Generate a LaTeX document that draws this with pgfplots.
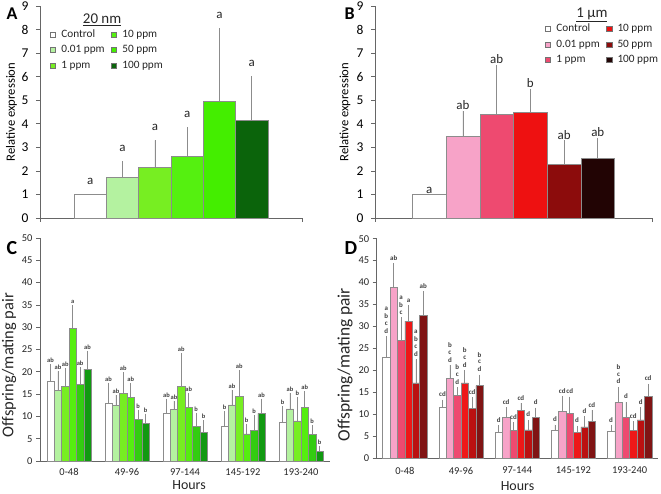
\documentclass[border=0pt]{standalone}
\usepackage{pgfplots}
\pgfplotsset{compat=1.18}
\usepackage{pgfplotstable}
\usepackage{fontspec}
\setmainfont{Carlito}

\definecolor{gA1}{HTML}{B4F2A0}
\definecolor{gA2}{HTML}{77EE22}
\definecolor{gA3}{HTML}{55F010}
\definecolor{gA4}{HTML}{44EE00}
\definecolor{gA5}{HTML}{0B640B}
\definecolor{gC1}{HTML}{B4F2A0}
\definecolor{gC2}{HTML}{77EE22}
\definecolor{gC3}{HTML}{55EE10}
\definecolor{gC4}{HTML}{33CC11}
\definecolor{gC5}{HTML}{119911}
\definecolor{pB1}{HTML}{F7A3C8}
\definecolor{pB2}{HTML}{EE4A70}
\definecolor{pB3}{HTML}{EE1111}
\definecolor{pB4}{HTML}{8C0C0C}
\definecolor{pB5}{HTML}{220404}
\definecolor{pD1}{HTML}{F7A3C8}
\definecolor{pD2}{HTML}{EE4A70}
\definecolor{pD3}{HTML}{EE1818}
\definecolor{pD4}{HTML}{BB1111}
\definecolor{pD5}{HTML}{801414}

\newcommand{\abcd}{\shortstack{a\\b\\c\\d}}
\newcommand{\abc}{\shortstack{a\\b\\c}}
\newcommand{\bcd}{\shortstack{b\\c\\d}}

\pgfplotstableread{
x v0 e0 l0 v1 e1 l1 v2 e2 l2 v3 e3 l3 v4 e4 l4 v5 e5 l5
0 1.0 0 a 1.72 0.68 a 2.15 1.15 a 2.6 1.25 a 4.95 3.1 a 4.17 1.85 a
}\dataA

\pgfplotstableread{
x v0 e0 l0 v1 e1 l1 v2 e2 l2 v3 e3 l3 v4 e4 l4 v5 e5 l5
0 1.0 0 a 3.45 1.1 ab 4.4 2.1 ab 4.5 0.98 b 2.3 1.0 ab 2.52 0.88 ab
}\dataB

\pgfplotstableread{
x v0 e0 l0 v1 e1 l1 v2 e2 l2 v3 e3 l3 v4 e4 l4 v5 e5 l5
0 17.8 3.9 ab 15.8 4.3 ab 16.7 4.1 ab 29.7 5.2 a 17.1 3.9 ab 20.6 4.1 ab
1 13.0 4.6 ab 12.5 2.4 ab 15.1 4.8 ab 14.3 3.2 ab 9.4 2.1 b 8.5 2.1 b
2 10.6 3.4 ab 11.6 1.9 ab 16.8 7.4 ab 12.1 3.1 ab 7.8 3.0 b 6.4 2.7 b
3 7.8 3.4 b 12.6 3.4 ab 14.5 5.8 ab 6.1 2.1 b 6.9 3.4 b 10.7 3.3 ab
4 8.7 3.6 b 11.7 3.5 ab 9.0 5.4 b 12.1 3.5 ab 6.0 2.0 b 2.1 1.3 b
}\dataC

\pgfplotstableread{
x v0 e0 l0 v1 e1 l1 v2 e2 l2 v3 e3 l3 v4 e4 l4 v5 e5 l5
0 22.9 4.9 {\abcd} 38.9 5.5 ab 26.8 5.3 {\abc} 31.2 3.6 a 17.1 5.4 {\abcd} 32.5 5.5 ab
1 11.6 1.7 cd 18.1 3.1 {\bcd} 14.3 1.8 {\bcd} 17.1 2.9 {\bcd} 11.3 2.6 cd 16.5 2.5 {\bcd}
2 5.8 1.7 d 9.3 2.3 cd 6.3 1.9 cd 10.8 1.7 cd 6.4 2.3 d 9.2 2.3 d
3 6.3 1.3 d 10.6 3.5 cd 10.1 3.9 cd 5.8 1.5 d 7.1 2.4 d 8.4 2.5 cd
4 6.1 1.4 d 12.7 3.5 {\bcd} 9.3 3.5 d 6.3 2.1 cd 8.7 2.9 d 14.0 2.9 cd
}\dataD

\newcommand{\barplot}[4]{%
\addplot[fill=#2, draw=black!45, line width=0.5bp, bar shift=#1,
  point meta=explicit symbolic,
  visualization depends on={\thisrow{e#3}\as\ep},
  nodes near coords]
  table[x=x, y=v#3, y error plus=e#3, meta=l#3] {#4};}

\pgfplotsset{
  base/.style={
    scale only axis, axis lines*=left, clip=false,
    tick align=outside, major tick length=4bp,
    axis line style={black!60, line width=0.8bp},
    tick style={black!60, line width=0.6bp},
    /pgf/number format/assume math mode=true,
    ybar, ymin=0,
    error bars/y dir=plus, error bars/y explicit,
    error bars/error mark=none,
    error bars/error bar style={black!45, line width=0.7bp},
    legend cell align=left,
    legend image code/.code={\draw[##1, draw=black!55, line width=0.5bp] (0bp,-2.6bp) rectangle (5.2bp,2.6bp);},
  },
  leg/.style={legend columns=2,
    legend style={draw=none, fill=none, at={#1}, anchor=north west,
    font=\fontsize{11.3}{12}\selectfont, text=black!85, row sep=4.5bp, inner sep=0pt,
    nodes={inner sep=1bp},
    /tikz/every odd column/.append style={column sep=4.5bp},
    /tikz/every even column/.append style={column sep=5.5bp}}},
}

\begin{document}
\begin{tikzpicture}[x=1bp,y=1bp]
\useasboundingbox (0,0) rectangle (661,494);

% Panel A
\begin{axis}[base, at={(40bp,276bp)}, anchor=south west,
  width=262bp, height=212bp,
  xmin=-1, xmax=1, ymax=9, ytick={0,...,9},
  xtick={-1,1}, xticklabels={},
  bar width=32.3bp,
  yticklabel style={font=\fontsize{13.5}{13.5}\selectfont, text=black, xshift=-4bp},
  ylabel={Relative expression},
  ylabel style={font=\fontsize{12.7}{13}\selectfont, at={(axis description cs:-0.109,0.5)}, anchor=center},
  every node near coord/.append style={font=\fontsize{13}{13}\selectfont, text=black!85, anchor=base, yshift=9.5bp, shift={(axis direction cs:0,\ep)}},
  leg={(axis description cs:0.038,0.893)},
]
\addlegendimage{fill=white}\addlegendentry{Control}
\addlegendimage{fill=gA3}\addlegendentry{10 ppm}
\addlegendimage{fill=gA1}\addlegendentry{0.01 ppm}
\addlegendimage{fill=gA4}\addlegendentry{50 ppm}
\addlegendimage{fill=gA2}\addlegendentry{1 ppm}
\addlegendimage{fill=gA5}\addlegendentry{100 ppm}
\barplot{-80.75bp}{white}{0}{\dataA}
\barplot{-48.45bp}{gA1}{1}{\dataA}
\barplot{-16.15bp}{gA2}{2}{\dataA}
\barplot{16.15bp}{gA3}{3}{\dataA}
\barplot{48.45bp}{gA4}{4}{\dataA}
\barplot{80.75bp}{gA5}{5}{\dataA}
\node[anchor=base, font=\fontsize{15}{15}\selectfont, text=black!85] at (axis description cs:0.237,0.918) {\underline{20 nm}};
\end{axis}

% Panel B
\begin{axis}[base, at={(375bp,276bp)}, anchor=south west,
  width=277bp, height=212bp,
  xmin=-1, xmax=1, ymax=9, ytick={0,...,9},
  xtick={-1,1}, xticklabels={},
  bar width=33.7bp,
  yticklabel style={font=\fontsize{13.5}{13.5}\selectfont, text=black, xshift=-4bp},
  ylabel={Relative expression},
  ylabel style={font=\fontsize{12.7}{13}\selectfont, at={(axis description cs:-0.108,0.5)}, anchor=center},
  every node near coord/.append style={font=\fontsize{13}{13}\selectfont, text=black!85, anchor=base, yshift=1bp, shift={(axis direction cs:0,\ep)}},
  leg={(axis description cs:0.614,0.92)},
]
\addlegendimage{fill=white}\addlegendentry{Control}
\addlegendimage{fill=pB3}\addlegendentry{10 ppm}
\addlegendimage{fill=pB1}\addlegendentry{0.01 ppm}
\addlegendimage{fill=pB4}\addlegendentry{50 ppm}
\addlegendimage{fill=pB2}\addlegendentry{1 ppm}
\addlegendimage{fill=pB5}\addlegendentry{100 ppm}
\barplot{-84.25bp}{white}{0}{\dataB}
\barplot{-50.55bp}{pB1}{1}{\dataB}
\barplot{-16.85bp}{pB2}{2}{\dataB}
\barplot{16.85bp}{pB3}{3}{\dataB}
\barplot{50.55bp}{pB4}{4}{\dataB}
\barplot{84.25bp}{pB5}{5}{\dataB}
\node[anchor=base, font=\fontsize{15}{15}\selectfont, text=black!85] at (axis description cs:0.783,0.945) {\underline{1 µm}};
\end{axis}

% Panel C
\begin{axis}[base, at={(40bp,33bp)}, anchor=south west,
  width=290bp, height=223bp,
  xmin=-0.5, xmax=4.5, ymax=50, ytick={0,5,...,50},
  xtick={0,...,4}, xticklabels={0-48,49-96,97-144,145-192,193-240},
  x tick style={draw=none},
  bar width=7.4bp,
  yticklabel style={font=\fontsize{10.5}{10.5}\selectfont, text=black!85},
  xticklabel style={font=\fontsize{10.5}{11}\selectfont, text=black!85, yshift=-3.5bp, inner sep=0pt},
  ylabel={Offspring/mating pair},
  ylabel style={font=\fontsize{16.5}{17}\selectfont, text=black!85, at={(axis description cs:-0.107,0.43)}, anchor=center},
  xlabel={Hours},
  xlabel style={font=\fontsize{14}{14}\selectfont, text=black!85, inner sep=0pt, at={(axis description cs:0.514,-0.126)}, anchor=base},
  every node near coord/.append style={font=\bfseries\fontsize{6.5}{8.5}\selectfont, text=black!75, anchor=base, yshift=1.5bp, inner sep=0pt, shift={(axis direction cs:0,\ep)}},
]
\barplot{-18.5bp}{white}{0}{\dataC}
\barplot{-11.1bp}{gC1}{1}{\dataC}
\barplot{-3.7bp}{gC2}{2}{\dataC}
\barplot{3.7bp}{gC3}{3}{\dataC}
\barplot{11.1bp}{gC4}{4}{\dataC}
\barplot{18.5bp}{gC5}{5}{\dataC}
\end{axis}

% Panel D
\begin{axis}[base, at={(376.7bp,36bp)}, anchor=south west,
  width=281bp, height=219.3bp,
  xmin=-0.5, xmax=4.5, ymax=50, ytick={0,5,...,50},
  xtick={0,...,4}, xticklabels={0-48,49-96,97-144,145-192,193-240},
  x tick style={draw=none},
  bar width=7.4bp,
  yticklabel style={font=\fontsize{10.5}{10.5}\selectfont, text=black!85},
  xticklabel style={font=\fontsize{10.5}{11}\selectfont, text=black!85, yshift=-5bp, inner sep=0pt},
  ylabel={Offspring/mating pair},
  ylabel style={font=\fontsize{17.5}{18}\selectfont, text=black!85, at={(axis description cs:-0.113,0.426)}, anchor=center},
  xlabel={Hours},
  xlabel style={font=\fontsize{14}{14}\selectfont, text=black!85, inner sep=0pt, at={(axis description cs:0.501,-0.147)}, anchor=base},
  every node near coord/.append style={font=\bfseries\fontsize{7}{9.5}\selectfont, text=black!75, anchor=base, yshift=3bp, inner sep=0pt, shift={(axis direction cs:0,\ep)}},
]
\barplot{-18.5bp}{white}{0}{\dataD}
\barplot{-11.1bp}{pD1}{1}{\dataD}
\barplot{-3.7bp}{pD2}{2}{\dataD}
\barplot{3.7bp}{pD3}{3}{\dataD}
\barplot{11.1bp}{pD4}{4}{\dataD}
\barplot{18.5bp}{pD5}{5}{\dataD}
\end{axis}

\node[anchor=base west, font=\bfseries\fontsize{18}{18}\selectfont] at (3,474) {A};
\node[anchor=base west, font=\bfseries\fontsize{18}{18}\selectfont] at (341,474) {B};
\node[anchor=base west, font=\bfseries\fontsize{20}{20}\selectfont] at (3,239) {C};
\node[anchor=base west, font=\bfseries\fontsize{20}{20}\selectfont] at (341,239) {D};
\end{tikzpicture}
\end{document}
